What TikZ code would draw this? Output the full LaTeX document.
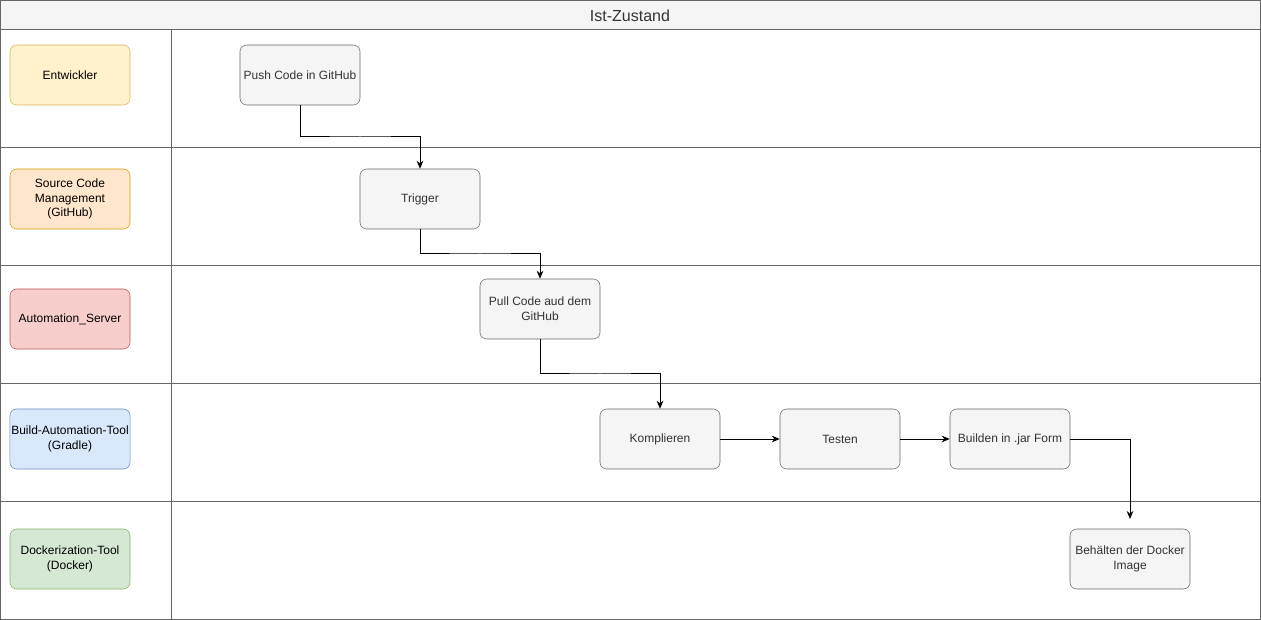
\documentclass[tikz,border=0pt]{standalone}
\usepackage{fontspec}
\setmainfont{Liberation Sans}
\usepackage{xcolor}
\usetikzlibrary{arrows.meta,positioning}

\definecolor{procfill}{HTML}{F5F5F5}
\definecolor{procline}{HTML}{666666}
\definecolor{proctext}{HTML}{333333}
\definecolor{devfill}{HTML}{FFF2CC}
\definecolor{devline}{HTML}{D6B656}
\definecolor{scmfill}{HTML}{FFE6CC}
\definecolor{scmline}{HTML}{D79B00}
\definecolor{srvfill}{HTML}{F8CECC}
\definecolor{srvline}{HTML}{B85450}
\definecolor{bldfill}{HTML}{DAE8FC}
\definecolor{bldline}{HTML}{6C8EBF}
\definecolor{dckfill}{HTML}{D5E8D4}
\definecolor{dckline}{HTML}{82B366}

\begin{document}
\begin{tikzpicture}[
  x=0.75pt, y=-0.75pt,
  lane/.style={draw=procline, line width=0.75pt},
  actor/.style={draw, rounded corners=5pt, minimum width=90pt,
    minimum height=45pt, align=center, inner sep=1pt,
    font=\fontsize{9}{11}\selectfont},
  task/.style={actor, draw=procline, fill=procfill, text=proctext},
  flow/.style={-{Stealth[length=6pt,width=5pt]}, line width=0.75pt}
]
\useasboundingbox (0,0) rectangle (1261,620);

% pool and lanes
\fill[procfill] (0.5,0.5) rectangle (1260.5,30);
\draw[lane] (0.5,0.5) rectangle (1260.5,619.5);
\draw[lane] (0.5,30) -- (1260.5,30);
\foreach \y in {148,266,384,501}
  \draw[lane] (0.5,\y) -- (1260.5,\y);
\draw[lane] (171,30) -- (171,619.5);
\node[font=\fontsize{12}{14}\selectfont, text=proctext] (title) at (630,16) {Ist-Zustand};

% actors
\node[actor, draw=devline, fill=devfill] (dev) at (70,75) {Entwickler};
\node[actor, draw=scmline, fill=scmfill] (scm) at (70,199) {Source Code\\Management\\(GitHub)};
\node[actor, draw=srvline, fill=srvfill] (srv) at (70,319) {Automation\_Server};
\node[actor, draw=bldline, fill=bldfill] (bld) at (70,439) {Build-Automation-Tool\\(Gradle)};
\node[actor, draw=dckline, fill=dckfill] (dck) at (70,559) {Dockerization-Tool\\(Docker)};

% tasks
\node[task] (push) at (300,75) {Push Code in GitHub};
\node[task] (trigger) at (420,199) {Trigger};
\node[task] (pull) at (540,309) {Pull Code aud dem\\GitHub};
\node[task] (compile) at (660,439) {Komplieren};
\node[task] (test) at (840,439) {Testen};
\node[task] (jar) at (1010,439) {Builden in .jar Form};
\node[task] (image) at (1130,559) {Behälten der Docker\\Image};
\coordinate (imagein) at (1130,519);

% flow
\draw[flow] (push.south) |- (360,137) -| (trigger.north);
\draw[flow] (trigger.south) |- (480,254) -| (pull.north);
\draw[flow] (pull.south) |- (600,374) -| (compile.north);
\draw[flow] (compile) -- (test);
\draw[flow] (test) -- (jar);
\draw[flow] (jar.east) -| (imagein);
\end{tikzpicture}
\end{document}
